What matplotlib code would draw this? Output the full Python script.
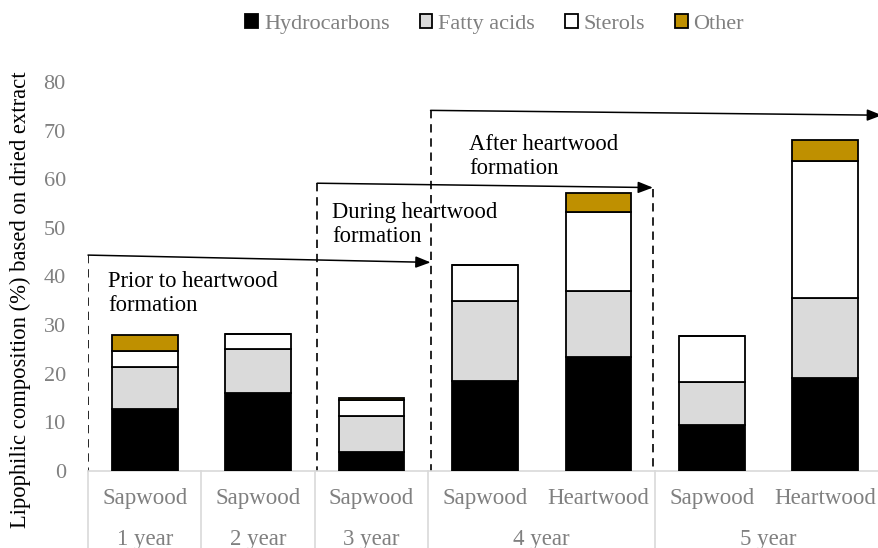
import matplotlib.pyplot as plt
import matplotlib.transforms as mtransforms
from matplotlib.patches import Patch

plt.rcParams['font.family'] = ['Liberation Serif', 'DejaVu Serif']

tissues = ['Sapwood', 'Sapwood', 'Sapwood', 'Sapwood', 'Heartwood', 'Sapwood', 'Heartwood']
years = ['1 year', '2 year', '3 year', '4 year', '5 year']
year_span = [(0, 0), (1, 1), (2, 2), (3, 4), (5, 6)]

hydrocarbons = [12.7, 16.0, 3.9, 18.5, 23.5, 9.5, 19.0]
fatty_acids = [8.6, 9.0, 7.4, 16.5, 13.6, 8.7, 16.6]
sterols = [3.3, 3.2, 3.3, 7.4, 16.1, 9.5, 28.2]
other = [3.3, 0.0, 0.4, 0.0, 3.9, 0.0, 4.3]

series = [('Hydrocarbons', hydrocarbons, 'black'),
          ('Fatty acids', fatty_acids, '#dadada'),
          ('Sterols', sterols, 'white'),
          ('Other', other, '#bf9000')]

grey = '#808080'
line_grey = '#d9d9d9'

fig = plt.figure(figsize=(8.79, 5.48), dpi=100)
ax = fig.add_axes([88 / 879, 0.141, 794 / 879, 0.709])

x = list(range(len(tissues)))
bottom = [0.0] * len(x)
for name, vals, col in series:
    ax.bar(x, vals, 0.58, bottom=bottom, color=col, edgecolor='black', linewidth=1.3, zorder=3)
    bottom = [b + v for b, v in zip(bottom, vals)]

ax.set_xlim(-0.5, 6.5)
ax.set_ylim(0, 80)
ax.set_yticks(range(0, 81, 10))
ax.tick_params(axis='y', length=0, labelsize=16, labelcolor=grey, pad=16)
ax.set_xticks([])
for s in ['left', 'right', 'top']:
    ax.spines[s].set_visible(False)
ax.spines['bottom'].set_color(line_grey)
ax.spines['bottom'].set_linewidth(1.2)
ax.set_ylabel('Lipophilic composition (%) based on dried extract', fontsize=16.3)
ax.yaxis.set_label_coords(-0.072, 0.439)

# multi-level category axis
trans = mtransforms.blended_transform_factory(ax.transData, ax.transAxes)
for i, t in enumerate(tissues):
    ax.text(i, -0.071, t, transform=trans, ha='center', va='center', fontsize=16.5, color=grey)
for label, (a, b) in zip(years, year_span):
    ax.text((a + b) / 2, -0.178, label, transform=trans, ha='center', va='center', fontsize=16.5, color=grey)
for sx in [-0.5, 0.5, 1.5, 2.5, 4.5, 6.5]:
    ax.plot([sx, sx], [0, -0.25], transform=trans, color=line_grey, lw=1.2, clip_on=False)

# formation phase arrows
phases = [('Prior to heartwood\nformation', -0.5, 2.52, 44.4, 42.9, -0.32, 41.2),
          ('During heartwood\nformation', 1.52, 4.48, 59.2, 58.3, 1.65, 55.4),
          ('After heartwood\nformation', 2.52, 6.5, 74.2, 73.2, 2.86, 69.4)]
arrow_dash = (0, (5, 3.5))
for text, x0, x1, y0, y1, tx, ty in phases:
    ax.annotate('', xy=(x1, y1), xytext=(x0, y0),
                arrowprops=dict(arrowstyle='-|>,head_length=0.9,head_width=0.35', color='black', lw=1.1,
                                shrinkA=0, shrinkB=0),
                annotation_clip=False, zorder=4)
    ax.plot([x0, x0], [y0, 0], color='black', lw=1.2, linestyle=arrow_dash, zorder=2)
    ax.text(tx, ty, text, fontsize=16.3, ha='left', va='top', linespacing=1.2, zorder=5)
ax.plot([4.48, 4.48], [58.0, 0], color='black', lw=1.2, linestyle=arrow_dash, zorder=2)

handles = [Patch(facecolor=col, edgecolor='black', linewidth=1.3, label=name) for name, _, col in series]
leg = fig.legend(handles=handles, loc='center', bbox_to_anchor=(0.5626, 0.956), ncol=4, frameon=False,
                 fontsize=16, handlelength=0.58, handleheight=0.58, handletextpad=0.25, columnspacing=1.35)
for t in leg.get_texts():
    t.set_color(grey)

fig.savefig('out.png', dpi=100)
